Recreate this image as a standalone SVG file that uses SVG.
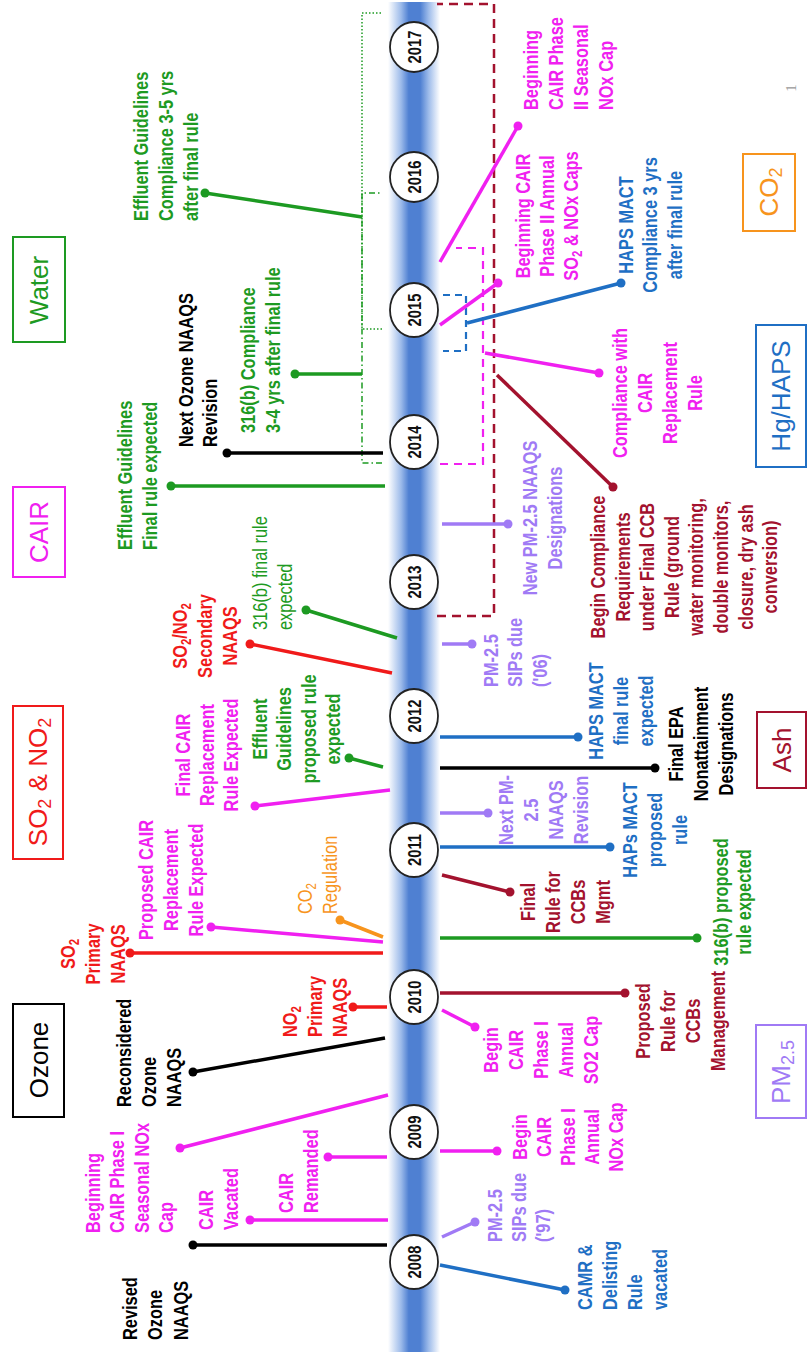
<svg xmlns="http://www.w3.org/2000/svg" width="807" height="1362" viewBox="0 0 807 1362">
<defs>
<linearGradient id="bar" x1="0" y1="0" x2="1" y2="0">
<stop offset="0" stop-color="#ffffff"/>
<stop offset="0.25" stop-color="#9dbbea"/>
<stop offset="0.4" stop-color="#4f80d2"/>
<stop offset="0.62" stop-color="#4f80d2"/>
<stop offset="0.78" stop-color="#9dbbea"/>
<stop offset="1" stop-color="#ffffff"/>
</linearGradient>
<style>
.t{font-family:'Liberation Sans',Arial,sans-serif;font-size:20px;font-weight:bold}
.n{font-weight:normal}
.yr{font-family:'Liberation Sans',Arial,sans-serif;font-size:18px;font-weight:bold;fill:#111;text-anchor:middle}
.bx{font-family:'Liberation Sans',Arial,sans-serif;font-size:26px;text-anchor:middle}
.m{text-anchor:middle}
.ell{fill:#fff;stroke:#222;stroke-width:1.8}
.box{fill:none;stroke-width:2}
.mag{fill:#f020f0}.red{fill:#f01a1a}.grn{fill:#1d9a22}.blk{fill:#000}.blu{fill:#1f6fc4}.pur{fill:#a07af5}.dkr{fill:#a3122e}.org{fill:#f7941d}
.smag{stroke:#f020f0}.sred{stroke:#f01a1a}.sgrn{stroke:#1d9a22}.sblk{stroke:#000}.sblu{stroke:#1f6fc4}.spur{stroke:#a07af5}.sdkr{stroke:#a3122e}.sorg{stroke:#f7941d}
</style>
</defs>
<rect width="807" height="1362" fill="#fff"/>
<g id="timeline">
<rect x="388" y="2" width="52" height="1350" fill="url(#bar)"/>
</g>
<g id="brackets" fill="none">
<path d="M382,463 H362 V193 H382" stroke="#1d9a22" stroke-width="1.5" stroke-dasharray="6,3,1.5,3"/>
<path d="M382,329 H362 V13 H382" stroke="#1d9a22" stroke-width="1.5" stroke-dasharray="1.5,2"/>
<path d="M437,616 H494 V4 H437" stroke="#a3122e" stroke-width="2.5" stroke-dasharray="9,6"/>
<path d="M440,464 H483 V248 H456" stroke="#f020f0" stroke-width="2.2" stroke-dasharray="8,6"/>
<path d="M443,295 H466 V351 H443" stroke="#1f6fc4" stroke-width="2.2" stroke-dasharray="7,5"/>
</g>
<g id="connectors" stroke-width="3.5" fill="none">
<line class="sblk" x1="387" y1="1245" x2="193" y2="1245"/>
<line class="smag" x1="388" y1="1220" x2="250" y2="1220"/>
<line class="smag" x1="387" y1="1157" x2="328" y2="1157"/>
<line class="smag" x1="388" y1="1095" x2="180" y2="1148"/>
<line class="sblk" x1="385" y1="1038" x2="193" y2="1072"/>
<line class="sred" x1="387" y1="1007" x2="353" y2="1007"/>
<line class="sred" x1="383" y1="953" x2="130" y2="953"/>
<line class="smag" x1="383" y1="942" x2="211" y2="927"/>
<line class="sorg" x1="383" y1="937" x2="340" y2="920"/>
<line class="smag" x1="390" y1="790" x2="255" y2="806"/>
<line class="sgrn" x1="383" y1="767" x2="349" y2="758"/>
<line class="sred" x1="392" y1="673" x2="250" y2="644"/>
<line class="sgrn" x1="397" y1="638" x2="306" y2="610"/>
<line class="sgrn" x1="385" y1="486" x2="171" y2="486"/>
<line class="sblk" x1="383" y1="453" x2="227" y2="453"/>
<line class="sgrn" x1="362" y1="374" x2="295" y2="374"/>
<line class="sgrn" x1="362" y1="217" x2="205" y2="193"/>
<line class="sblu" x1="440" y1="1265" x2="565" y2="1290"/>
<line class="spur" x1="442" y1="1237" x2="475" y2="1222"/>
<line class="smag" x1="440" y1="1151" x2="497" y2="1151"/>
<line class="smag" x1="442" y1="1010" x2="475" y2="1027"/>
<line class="sdkr" x1="440" y1="993" x2="625" y2="993"/>
<line class="sgrn" x1="440" y1="938" x2="697" y2="938"/>
<line class="sdkr" x1="442" y1="875" x2="510" y2="892"/>
<line class="sblu" x1="440" y1="847" x2="610" y2="847"/>
<line class="spur" x1="440" y1="813" x2="488" y2="813"/>
<line class="sblk" x1="440" y1="768" x2="655" y2="768"/>
<line class="sblu" x1="440" y1="737" x2="578" y2="737"/>
<line class="spur" x1="442" y1="644" x2="472" y2="644"/>
<line class="spur" x1="442" y1="524" x2="508" y2="524"/>
<line class="sdkr" x1="497" y1="375" x2="613" y2="487"/>
<line class="smag" x1="485" y1="353" x2="599" y2="373"/>
<line class="sblu" x1="467" y1="323" x2="621" y2="283"/>
<line class="smag" x1="440" y1="325" x2="498" y2="283"/>
<line class="smag" x1="440" y1="262" x2="518" y2="126"/>
<g stroke="none">
<circle class="blk" cx="193" cy="1245" r="4.5"/>
<circle class="mag" cx="250" cy="1220" r="4.5"/>
<circle class="mag" cx="328" cy="1157" r="4.5"/>
<circle class="mag" cx="180" cy="1148" r="4.5"/>
<circle class="blk" cx="193" cy="1072" r="4.5"/>
<circle class="red" cx="353" cy="1007" r="4.5"/>
<circle class="red" cx="130" cy="953" r="4.5"/>
<circle class="mag" cx="211" cy="927" r="4.5"/>
<circle class="org" cx="340" cy="920" r="4.5"/>
<circle class="mag" cx="255" cy="806" r="4.5"/>
<circle class="grn" cx="349" cy="758" r="4.5"/>
<circle class="red" cx="250" cy="644" r="4.5"/>
<circle class="grn" cx="306" cy="610" r="4.5"/>
<circle class="grn" cx="171" cy="486" r="4.5"/>
<circle class="blk" cx="227" cy="453" r="4.5"/>
<circle class="grn" cx="295" cy="374" r="4.5"/>
<circle class="grn" cx="205" cy="193" r="4.5"/>
<circle class="blu" cx="565" cy="1290" r="4.5"/>
<circle class="pur" cx="475" cy="1222" r="4.5"/>
<circle class="mag" cx="497" cy="1151" r="4.5"/>
<circle class="mag" cx="475" cy="1027" r="4.5"/>
<circle class="dkr" cx="625" cy="993" r="4.5"/>
<circle class="grn" cx="697" cy="938" r="4.5"/>
<circle class="dkr" cx="510" cy="892" r="4.5"/>
<circle class="blu" cx="610" cy="847" r="4.5"/>
<circle class="pur" cx="488" cy="813" r="4.5"/>
<circle class="blk" cx="655" cy="768" r="4.5"/>
<circle class="blu" cx="578" cy="737" r="4.5"/>
<circle class="pur" cx="472" cy="644" r="4.5"/>
<circle class="pur" cx="508" cy="524" r="4.5"/>
<circle class="dkr" cx="613" cy="487" r="4.5"/>
<circle class="mag" cx="599" cy="373" r="4.5"/>
<circle class="blu" cx="621" cy="283" r="4.5"/>
<circle class="mag" cx="498" cy="283" r="4.5"/>
<circle class="mag" cx="518" cy="126" r="4.5"/>
</g>
</g>
<g id="years">
<g id="y2008"><ellipse class="ell" cx="414" cy="1262" rx="24" ry="27"/><text class="yr" transform="translate(421,1262) rotate(-90) scale(0.82,1)">2008</text></g>
<g id="y2009"><ellipse class="ell" cx="414" cy="1132" rx="24" ry="27"/><text class="yr" transform="translate(421,1132) rotate(-90) scale(0.82,1)">2009</text></g>
<g id="y2010"><ellipse class="ell" cx="414" cy="997" rx="24" ry="27"/><text class="yr" transform="translate(421,997) rotate(-90) scale(0.82,1)">2010</text></g>
<g id="y2011"><ellipse class="ell" cx="414" cy="850" rx="24" ry="27"/><text class="yr" transform="translate(421,850) rotate(-90) scale(0.82,1)">2011</text></g>
<g id="y2012"><ellipse class="ell" cx="414" cy="716" rx="24" ry="27"/><text class="yr" transform="translate(421,716) rotate(-90) scale(0.82,1)">2012</text></g>
<g id="y2013"><ellipse class="ell" cx="414" cy="582" rx="24" ry="27"/><text class="yr" transform="translate(421,582) rotate(-90) scale(0.82,1)">2013</text></g>
<g id="y2014"><ellipse class="ell" cx="414" cy="442" rx="24" ry="27"/><text class="yr" transform="translate(421,442) rotate(-90) scale(0.82,1)">2014</text></g>
<g id="y2015"><ellipse class="ell" cx="414" cy="310" rx="24" ry="27"/><text class="yr" transform="translate(421,310) rotate(-90) scale(0.82,1)">2015</text></g>
<g id="y2016"><ellipse class="ell" cx="414" cy="177" rx="24" ry="25"/><text class="yr" transform="translate(421,177) rotate(-90) scale(0.82,1)">2016</text></g>
<g id="y2017"><ellipse class="ell" cx="414" cy="47" rx="24" ry="25"/><text class="yr" transform="translate(421,47) rotate(-90) scale(0.82,1)">2017</text></g>
</g>
<g id="categories">
<g id="cat-ozone"><rect class="box" x="13" y="1004" width="51" height="113" stroke="#000"/><text class="bx" fill="#000" transform="translate(48,1060) rotate(-90)">Ozone</text></g>
<g id="cat-so2no2"><rect class="box" x="13" y="706" width="50" height="153" stroke="#f01a1a"/><text class="bx" fill="#f01a1a" transform="translate(47,782) rotate(-90)">SO<tspan font-size="18" dy="4">2</tspan><tspan dy="-4"> &amp; NO</tspan><tspan font-size="18" dy="4">2</tspan></text></g>
<g id="cat-cair"><rect class="box" x="13" y="487" width="52" height="90" stroke="#f020f0"/><text class="bx" fill="#f020f0" transform="translate(48,532) rotate(-90)">CAIR</text></g>
<g id="cat-water"><rect class="box" x="13" y="237" width="52" height="105" stroke="#1d9a22"/><text class="bx" fill="#1d9a22" transform="translate(48,290) rotate(-90)">Water</text></g>
<g id="cat-pm25"><rect class="box" x="756" y="1025" width="50" height="93" stroke="#a07af5"/><text class="bx" fill="#a07af5" transform="translate(790,1072) rotate(-90)">PM<tspan font-size="18" dy="4">2.5</tspan></text></g>
<g id="cat-ash"><rect class="box" x="757" y="712" width="49" height="76" stroke="#a3122e"/><text class="bx" fill="#a3122e" transform="translate(791,750) rotate(-90)">Ash</text></g>
<g id="cat-hghaps"><rect class="box" x="756" y="325" width="50" height="142" stroke="#1f6fc4"/><text class="bx" fill="#1f6fc4" transform="translate(790,396) rotate(-90)">Hg/HAPS</text></g>
<g id="cat-co2"><rect class="box" x="743" y="154" width="52" height="77" stroke="#f7941d"/><text class="bx" fill="#f7941d" transform="translate(778,192) rotate(-90)">CO<tspan font-size="18" dy="4">2</tspan></text></g>
</g>
<g id="labels">
<g id="L1"><text class="t blk" transform="translate(137,1340) rotate(-90) scale(0.82,1)"><tspan x="0" y="0">Revised</tspan><tspan x="0" y="25.5">Ozone</tspan><tspan x="0" y="51">NAAQS</tspan></text></g>
<g id="L2"><text class="t mag" transform="translate(213,1230) rotate(-90) scale(0.82,1)"><tspan x="0" y="0">CAIR</tspan><tspan x="0" y="25">Vacated</tspan></text></g>
<g id="L3"><text class="t mag" transform="translate(293,1213) rotate(-90) scale(0.82,1)"><tspan x="0" y="0">CAIR</tspan><tspan x="0" y="25">Remanded</tspan></text></g>
<g id="L4"><text class="t mag" transform="translate(100,1233) rotate(-90) scale(0.82,1)"><tspan x="0" y="0">Beginning</tspan><tspan x="0" y="24.5">CAIR Phase I</tspan><tspan x="0" y="49">Seasonal NOx</tspan><tspan x="0" y="73.5">Cap</tspan></text></g>
<g id="L5"><text class="t blk" transform="translate(131,1107) rotate(-90) scale(0.82,1)"><tspan x="0" y="0">Reconsidered</tspan><tspan x="0" y="25">Ozone</tspan><tspan x="0" y="50">NAAQS</tspan></text></g>
<g id="L6"><text class="t red" transform="translate(297,1037) rotate(-90) scale(0.82,1)"><tspan x="0" y="0">NO<tspan font-size="14" dy="4">2</tspan></tspan><tspan x="0" y="25">Primary</tspan><tspan x="0" y="50">NAAQS</tspan></text></g>
<g id="L7"><text class="t red m" transform="translate(75,954) rotate(-90) scale(0.82,1)"><tspan x="0" y="0">SO<tspan font-size="14" dy="4">2</tspan></tspan><tspan x="0" y="25">Primary</tspan><tspan x="0" y="50">NAAQS</tspan></text></g>
<g id="L8"><text class="t mag m" transform="translate(153,880) rotate(-90) scale(0.82,1)"><tspan x="0" y="0">Proposed CAIR</tspan><tspan x="0" y="25">Replacement</tspan><tspan x="0" y="50">Rule Expected</tspan></text></g>
<g id="L9"><text class="t n org" transform="translate(312,914) rotate(-90) scale(0.82,1)"><tspan x="0" y="0">CO<tspan font-size="14" dy="4">2</tspan></tspan><tspan x="0" y="25">Regulation</tspan></text></g>
<g id="L10"><text class="t mag m" transform="translate(190,755) rotate(-90) scale(0.82,1)"><tspan x="0" y="0">Final CAIR</tspan><tspan x="0" y="24">Replacement</tspan><tspan x="0" y="48">Rule Expected</tspan></text></g>
<g id="L11"><text class="t grn m" transform="translate(267,729) rotate(-90) scale(0.82,1)"><tspan x="0" y="0">Effluent</tspan><tspan x="0" y="24.5">Guidelines</tspan><tspan x="0" y="49">proposed rule</tspan><tspan x="0" y="73.5">expected</tspan></text></g>
<g id="L12"><text class="t red m" transform="translate(187,636) rotate(-90) scale(0.82,1)"><tspan x="0" y="0">SO<tspan font-size="14" dy="4">2</tspan><tspan dy="-4">/NO</tspan><tspan font-size="14" dy="4">2</tspan></tspan><tspan x="0" y="25">Secondary</tspan><tspan x="0" y="50">NAAQS</tspan></text></g>
<g id="L13"><text class="t n grn" transform="translate(267,630) rotate(-90) scale(0.82,1)"><tspan x="0" y="0">316(b) final rule</tspan><tspan x="0" y="25">expected</tspan></text></g>
<g id="L14"><text class="t grn" transform="translate(132,550) rotate(-90) scale(0.82,1)"><tspan x="0" y="0">Effluent Guidelines</tspan><tspan x="0" y="25">Final rule expected</tspan></text></g>
<g id="L15"><text class="t blk" transform="translate(193,447) rotate(-90) scale(0.82,1)"><tspan x="0" y="0">Next Ozone NAAQS</tspan><tspan x="0" y="24">Revision</tspan></text></g>
<g id="L16"><text class="t grn" transform="translate(255,433) rotate(-90) scale(0.82,1)"><tspan x="0" y="0">316(b) Compliance</tspan><tspan x="0" y="25">3-4 yrs after final rule</tspan></text></g>
<g id="L17"><text class="t grn" transform="translate(148,221) rotate(-90) scale(0.82,1)"><tspan x="0" y="0">Effluent Guidelines</tspan><tspan x="0" y="25.5">Compliance 3-5 yrs</tspan><tspan x="0" y="50.5">after final rule</tspan></text></g>
<g id="R1"><text class="t blu" transform="translate(592,1310) rotate(-90) scale(0.82,1)"><tspan x="0" y="0">CAMR &amp;</tspan><tspan x="0" y="25">Delisting</tspan><tspan x="0" y="50">Rule</tspan><tspan x="0" y="75">vacated</tspan></text></g>
<g id="R2"><text class="t pur" transform="translate(502,1242) rotate(-90) scale(0.82,1)"><tspan x="0" y="0">PM-2.5</tspan><tspan x="0" y="24">SIPs due</tspan><tspan x="0" y="48">('97)</tspan></text></g>
<g id="R3"><text class="t mag m" transform="translate(527,1137) rotate(-90) scale(0.82,1)"><tspan x="0" y="0">Begin</tspan><tspan x="0" y="24">CAIR</tspan><tspan x="0" y="48">Phase I</tspan><tspan x="0" y="72">Annual</tspan><tspan x="0" y="96">NOx Cap</tspan></text></g>
<g id="R4"><text class="t mag m" transform="translate(498,1050) rotate(-90) scale(0.82,1)"><tspan x="0" y="0">Begin</tspan><tspan x="0" y="25">CAIR</tspan><tspan x="0" y="50">Phase I</tspan><tspan x="0" y="75">Annual</tspan><tspan x="0" y="100">SO2 Cap</tspan></text></g>
<g id="R5"><text class="t dkr m" transform="translate(650,1021) rotate(-90) scale(0.82,1)"><tspan x="0" y="0">Proposed</tspan><tspan x="0" y="25">Rule for</tspan><tspan x="0" y="50">CCBs</tspan><tspan x="0" y="75">Management</tspan></text></g>
<g id="R6"><text class="t grn m" transform="translate(728,902) rotate(-90) scale(0.82,1)"><tspan x="0" y="0">316(b) proposed</tspan><tspan x="0" y="23">rule expected</tspan></text></g>
<g id="R7"><text class="t dkr m" transform="translate(535,902) rotate(-90) scale(0.82,1)"><tspan x="0" y="0">Final</tspan><tspan x="0" y="25">Rule for</tspan><tspan x="0" y="50">CCBs</tspan><tspan x="0" y="75">Mgmt</tspan></text></g>
<g id="R8"><text class="t blu m" transform="translate(637,830) rotate(-90) scale(0.82,1)"><tspan x="0" y="0">HAPs MACT</tspan><tspan x="0" y="25">proposed</tspan><tspan x="0" y="50">rule</tspan></text></g>
<g id="R9"><text class="t pur m" transform="translate(513,810) rotate(-90) scale(0.82,1)"><tspan x="0" y="0">Next PM-</tspan><tspan x="0" y="25">2.5</tspan><tspan x="0" y="50">NAAQS</tspan><tspan x="0" y="75">Revision</tspan></text></g>
<g id="R10"><text class="t blk m" transform="translate(683,744) rotate(-90) scale(0.82,1)"><tspan x="0" y="0">Final EPA</tspan><tspan x="0" y="25">Nonattainment</tspan><tspan x="0" y="50">Designations</tspan></text></g>
<g id="R11"><text class="t blu m" transform="translate(603,711) rotate(-90) scale(0.82,1)"><tspan x="0" y="0">HAPS MACT</tspan><tspan x="0" y="25">final rule</tspan><tspan x="0" y="50">expected</tspan></text></g>
<g id="R12"><text class="t pur" transform="translate(498,687) rotate(-90) scale(0.82,1)"><tspan x="0" y="0">PM-2.5</tspan><tspan x="0" y="24.5">SIPs due</tspan><tspan x="0" y="49">('06)</tspan></text></g>
<g id="R13"><text class="t pur m" transform="translate(537,518) rotate(-90) scale(0.82,1)"><tspan x="0" y="0">New PM-2.5 NAAQS</tspan><tspan x="0" y="25">Designations</tspan></text></g>
<g id="R14"><text class="t dkr m" transform="translate(605,567) rotate(-90) scale(0.82,1)"><tspan x="0" y="0">Begin Compliance</tspan><tspan x="0" y="24.6">Requirements</tspan><tspan x="0" y="49.2">under Final CCB</tspan><tspan x="0" y="73.8">Rule (ground</tspan><tspan x="0" y="98.4">water monitoring,</tspan><tspan x="0" y="123">double monitors,</tspan><tspan x="0" y="147.6">closure, dry ash</tspan><tspan x="0" y="172.2">conversion)</tspan></text></g>
<g id="R15"><text class="t mag m" transform="translate(627,393) rotate(-90) scale(0.82,1)"><tspan x="0" y="0">Compliance with</tspan><tspan x="0" y="25">CAIR</tspan><tspan x="0" y="50">Replacement</tspan><tspan x="0" y="75">Rule</tspan></text></g>
<g id="R16"><text class="t mag m" transform="translate(530,216) rotate(-90) scale(0.82,1)"><tspan x="0" y="0">Beginning CAIR</tspan><tspan x="0" y="24">Phase II Annual</tspan><tspan x="0" y="48">SO<tspan font-size="14" dy="4">2</tspan><tspan dy="-4"> &amp; NOx Caps</tspan></tspan></text></g>
<g id="R17"><text class="t blu m" transform="translate(633,225) rotate(-90) scale(0.82,1)"><tspan x="0" y="0">HAPS MACT</tspan><tspan x="0" y="24.5">Compliance 3 yrs</tspan><tspan x="0" y="49">after final rule</tspan></text></g>
<g id="R18"><text class="t mag" transform="translate(538,110) rotate(-90) scale(0.82,1)"><tspan x="0" y="0">Beginning</tspan><tspan x="0" y="25">CAIR Phase</tspan><tspan x="0" y="50">II Seasonal</tspan><tspan x="0" y="75">NOx Cap</tspan></text></g>
<g id="pagenum"><text transform="translate(796,88) rotate(-90)" font-family="'Liberation Serif',serif" font-size="15" fill="#999" text-anchor="middle">1</text></g>
</g>
</svg>
